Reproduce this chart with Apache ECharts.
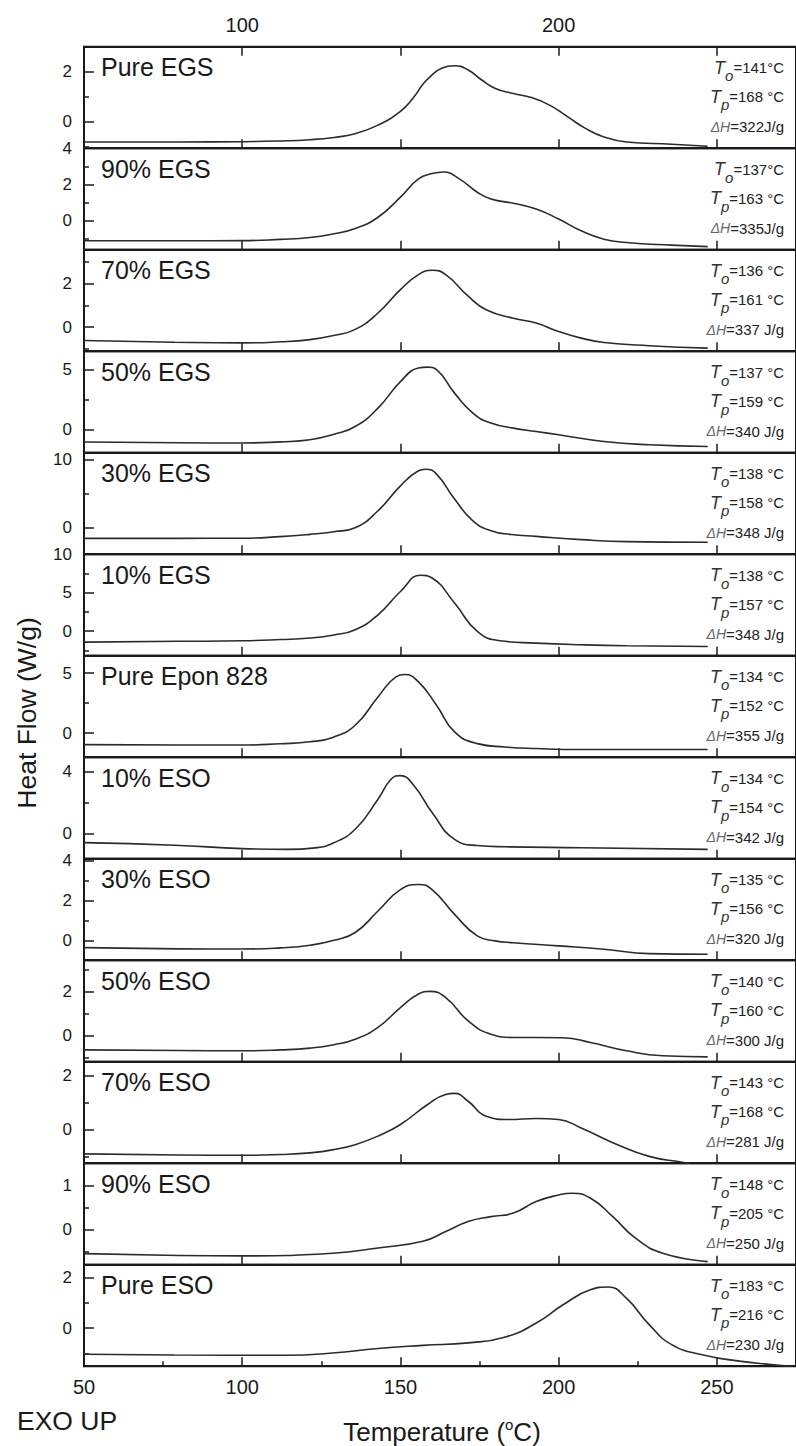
<!DOCTYPE html>
<html>
<head>
<meta charset="utf-8">
<script src="https://cdn.jsdelivr.net/npm/echarts@6/dist/echarts.min.js"></script>
<style>
  html, body { margin: 0; padding: 0; background: #fff; }
  #main { width: 796px; height: 1446px; }
</style>
</head>
<body>
<div id="main"></div>
<script>
// panels, top to bottom
var samples = ['Pure EGS', '90% EGS', '70% EGS', '50% EGS', '30% EGS', '10% EGS', 'Pure Epon 828',
               '10% ESO', '30% ESO', '50% ESO', '70% ESO', '90% ESO', 'Pure ESO'];
var onsetT   = ['141', '137', '136 ', '137 ', '138 ', '138 ', '134 ', '134 ', '135 ', '140 ', '143 ', '148 ', '183 '];
var peakT    = ['168 ', '163 ', '161 ', '159 ', '158 ', '157 ', '152 ', '154 ', '156 ', '160 ', '168 ', '205 ', '216 '];
var enthalpy = ['322J/g', '335J/g', '337 J/g', '340 J/g', '348 J/g', '348 J/g', '355 J/g', '342 J/g',
                '320 J/g', '300 J/g', '281 J/g', '250 J/g', '230 J/g'];

// heat flow curves, [temperature (C), heat flow (W/g)]
var pureEGS = [[50,-0.8],[80,-0.8],[100,-0.79],[112,-0.76],[121.4,-0.71],[129,-0.62],[135.7,-0.47],[142.9,-0.13],
  [150,0.42],[154,0.95],[157.1,1.5],[160,1.88],[162.9,2.13],[167.1,2.24],[171.4,2.07],[175.7,1.67],[180,1.33],
  [185.7,1.13],[191.4,0.97],[197.1,0.67],[202.9,0.2],[208.6,-0.27],[214.3,-0.6],[221.4,-0.8],[235.7,-0.89],
  [247.1,-0.97]];
var egs90 = [[50,-1.11],[80,-1.11],[100,-1.1],[112,-1.03],[121.4,-0.93],[129,-0.72],[135.7,-0.43],[142.9,0.19],
  [150,1.3],[155.7,2.31],[160,2.6],[163.6,2.69],[168.6,2.31],[174.3,1.57],[178.6,1.2],[185.7,0.96],
  [192.9,0.65],[200,0.09],[207.1,-0.56],[214.3,-1.02],[221.4,-1.2],[235.7,-1.35],[247.1,-1.43]];
var egs70 = [[50,-0.61],[78.6,-0.69],[100,-0.72],[112,-0.67],[121.4,-0.57],[129,-0.38],[135.7,-0.1],
  [142.9,0.65],[150,1.72],[155.7,2.41],[160,2.61],[164.3,2.41],[171.4,1.42],[177.1,0.8],[185.7,0.41],
  [192.9,0.19],[200,-0.2],[207.1,-0.5],[214.3,-0.7],[228.6,-0.85],[247.1,-0.96]];
var egs50 = [[50,-1.06],[80,-1.12],[100,-1.14],[112,-1.04],[121.4,-0.87],[129,-0.4],[135.7,0.24],
  [142.9,1.78],[150,4.0],[155.7,5.14],[158.6,5.22],[161.4,5.0],[167.1,3.04],[172.9,1.37],[178.6,0.53],
  [185.7,0.11],[192.9,-0.17],[200,-0.45],[214.3,-1.01],[228.6,-1.29],[247.1,-1.43]];
var egs30 = [[50,-1.57],[80,-1.57],[100,-1.55],[112,-1.32],[121.4,-0.99],[129,-0.6],[135.7,-0.01],
  [142.9,2.48],[150,6.14],[155.7,8.34],[157.9,8.58],[161.4,7.85],[167.1,4.19],[172.9,1.0],[178.6,-0.45],
  [185,-1.0],[192.9,-1.28],[207.1,-1.76],[221.4,-2.06],[247.1,-2.15]];
var egs10 = [[50,-1.43],[80,-1.33],[100,-1.26],[112,-1.1],[121.4,-0.9],[129,-0.5],[135.7,0.17],[142.9,2.12],
  [150,5.15],[156.4,7.26],[160,6.9],[167.1,3.65],[174.3,-0.04],[181.4,-1.26],[192.9,-1.56],[207.1,-1.78],
  [221.4,-1.91],[247.1,-2.0]];
var epon828 = [[50,-0.95],[80,-0.98],[100,-0.99],[112,-0.88],[121.4,-0.72],[128.6,-0.35],[135.7,0.66],
  [142.9,3.02],[148.6,4.69],[151.4,4.88],[155.7,4.27],[161.4,2.33],[167.1,0.11],[174.3,-0.87],
  [183,-1.15],[192.9,-1.28],[207.1,-1.36],[247.1,-1.36]];
var eso10 = [[50,-0.56],[78.6,-0.73],[100,-0.95],[114.3,-1.0],[123,-0.9],[128.6,-0.6],[135.7,0.3],
  [142.9,2.24],[147.1,3.54],[150,3.76],[154.3,3.11],[160,1.38],[167.1,-0.35],[174.3,-0.75],[183,-0.83],
  [207.1,-0.89],[247.1,-1.0]];
var eso30 = [[50,-0.37],[80,-0.43],[100,-0.44],[112,-0.38],[121.4,-0.25],[129,0.0],[135.7,0.39],[142.9,1.47],
  [150,2.55],[155.7,2.8],[160,2.55],[167.1,1.3],[174.3,0.22],[180,-0.03],[185.7,-0.12],[200,-0.28],
  [214.3,-0.45],[228.6,-0.67],[247.1,-0.7]];
var eso50 = [[50,-0.66],[80,-0.69],[100,-0.7],[112,-0.66],[121.4,-0.58],[129,-0.42],[135.7,-0.17],
  [142.9,0.37],[150,1.28],[155.7,1.9],[159.3,2.02],[164.3,1.74],[171.4,0.67],[178.6,0.06],[185.7,-0.09],
  [192.9,-0.09],[201.4,-0.1],[210,-0.32],[221.4,-0.7],[232.9,-0.93],[247.1,-0.98]];
var eso70 = [[50,-0.88],[80,-0.92],[100,-0.93],[112,-0.9],[121.4,-0.84],[129,-0.72],[135.7,-0.54],
  [143,-0.22],[150,0.2],[158.6,0.93],[164.3,1.3],[167.1,1.34],[171.4,1.05],[177.1,0.5],[184.3,0.38],
  [192.9,0.42],[200,0.38],[207.1,0.07],[218.6,-0.54],[228.6,-0.97],[238.6,-1.18],[241.4,-1.22]];
var eso90 = [[50,-0.55],[80,-0.59],[100,-0.6],[128.6,-0.54],[142.9,-0.42],[157.1,-0.27],[164.3,-0.05],
  [171.4,0.18],[178.6,0.29],[185.7,0.37],[192.9,0.63],[200,0.78],[204.3,0.82],[210,0.71],[217.1,0.29],
  [224.3,-0.2],[232.9,-0.54],[247.1,-0.73]];
var pureESO = [[50,-1.03],[78.6,-1.06],[114.3,-1.07],[128.6,-0.98],[142.9,-0.8],[157.1,-0.68],
  [171.4,-0.58],[182.9,-0.36],[192.9,0.2],[201.4,0.92],[210,1.51],[215.7,1.62],[221.4,1.18],[228.6,0.14],
  [235.7,-0.65],[245.7,-1.06],[257.1,-1.3],[267.1,-1.43],[274,-1.5]];
var curves = [pureEGS, egs90, egs70, egs50, egs30, egs10, epon828, eso10, eso30, eso50, eso70, eso90, pureESO];

// y scale of every panel
var yMin = [-1.05, -1.6, -1.1, -1.95, -3.9, -3.2, -2, -1.6, -1.0, -1.2, -1.22, -0.8, -1.5];
var yMax = [3, 4, 3.55, 6.55, 11, 10, 6.45, 4.95, 4.1, 3.45, 2.5, 1.5, 2.5];
var yMajor = [[0,2],[0,2,4],[0,2],[0,5],[0,10],[0,5,10],[0,5],[0,4],[0,2,4],[0,2],[0,2],[0,1],[0,2]];
var yMinor = [[-1,1,3],[-1,1,3],[-1,1,3],[2.5],[5],[-2.5,2.5,7.5],[2.5],[2],[1,3],[-1,1,3],[-1,1],[-0.5,0.5],[-1,1]];

// temperature axis
var xMin = 50, xMax = 275;
var xTicks = [50, 100, 150, 200, 250];
var xMinorTicks = [75, 125, 175, 225];
var topLabels = [100, 200];

var FONT = 'Liberation Sans, Arial, sans-serif';
var INK = '#1a1a1a';
var top0 = 46.7, ph = 101.5, left = 84, plotW = 716;

var chart = echarts.init(document.getElementById('main'), null, {renderer: 'svg'});

var grids = [], xAxes = [], yAxes = [], series = [], graphics = [];
var n = samples.length;

for (var i = 0; i < n; i++) {
    var gTop = top0 + i * ph;
    var last = (i === n - 1);
    grids.push({left: left, top: gTop, width: plotW, height: ph, show: true,
        borderColor: INK, borderWidth: 2, backgroundColor: 'transparent'});

    xAxes.push({
        type: 'value', gridIndex: i, position: 'bottom', min: xMin, max: xMax,
        axisLine: {show: true, onZero: false, lineStyle: {color: INK, width: 2}},
        axisTick: {show: true, inside: true, length: 9, customValues: xTicks, lineStyle: {color: INK, width: 1.5}},
        axisLabel: {show: last, customValues: xTicks, fontSize: 20, color: INK, fontFamily: FONT, margin: 11},
        splitLine: {show: false}
    });

    yAxes.push({
        type: 'value', gridIndex: i, position: 'left', min: yMin[i], max: yMax[i],
        axisLine: {show: true, onZero: false, lineStyle: {color: INK, width: 2}},
        axisTick: {show: true, inside: true, length: 10, customValues: yMajor[i], lineStyle: {color: INK, width: 1.5}},
        axisLabel: {show: true, customValues: yMajor[i], fontSize: 17, color: INK, fontFamily: FONT, margin: 12},
        splitLine: {show: false}
    });

    series.push({
        type: 'line', xAxisIndex: i, yAxisIndex: i, data: curves[i],
        showSymbol: false, smooth: 0.5, lineStyle: {color: '#2b2b2b', width: 1.6},
        animation: false
    });

    // sample name
    graphics.push({
        type: 'text', left: 101, top: gTop + 8,
        style: {text: samples[i], fontSize: 25, fontFamily: FONT, fill: INK}
    });

    // onset / peak / enthalpy
    var rich = {
        it: {fontSize: 18, fontStyle: 'italic', fontFamily: FONT, fill: '#333'},
        sub: {fontSize: 15, fontStyle: 'italic', fontFamily: FONT, fill: '#333', padding: [16, 0, 0, 0]},
        n: {fontSize: 15, fontFamily: FONT, fill: '#222'},
        dh: {fontSize: 14, fontStyle: 'italic', fontFamily: FONT, fill: '#666'}
    };
    var lines = [
        ['{it|T}{sub|o}{n|=' + onsetT[i] + '°C}', 21],
        ['{it|T}{sub|p}{n|=' + peakT[i] + '°C}', 50],
        ['{dh|ΔH}{n|=' + enthalpy[i] + '}', 80]
    ];
    lines.forEach(function (ln) {
        graphics.push({
            type: 'text', x: 784, y: gTop + ln[1],
            style: {text: ln[0], rich: rich, align: 'right', verticalAlign: 'middle'}
        });
    });
}

// top axis of the first panel
xAxes.push({
    type: 'value', gridIndex: 0, position: 'top', min: xMin, max: xMax,
    axisLine: {show: true, onZero: false, lineStyle: {color: INK, width: 2}},
    axisTick: {show: true, inside: true, length: 9, customValues: [100, 150, 200, 250], lineStyle: {color: INK, width: 1.5}},
    axisLabel: {show: true, customValues: topLabels, fontSize: 20, color: INK, fontFamily: FONT, margin: 12},
    splitLine: {show: false}
});
// minor ticks of the bottom axis
xAxes.push({
    type: 'value', gridIndex: n - 1, position: 'bottom', min: xMin, max: xMax,
    axisLine: {show: false, onZero: false},
    axisTick: {show: true, inside: true, length: 5, customValues: xMinorTicks, lineStyle: {color: INK, width: 1.5}},
    axisLabel: {show: false},
    splitLine: {show: false}
});
// minor ticks of every y axis
for (var j = 0; j < n; j++) {
    yAxes.push({
        type: 'value', gridIndex: j, position: 'left', min: yMin[j], max: yMax[j],
        axisLine: {show: false, onZero: false},
        axisTick: {show: true, inside: true, length: 5, customValues: yMinor[j], lineStyle: {color: INK, width: 1.5}},
        axisLabel: {show: false},
        splitLine: {show: false}
    });
}

// axis titles
graphics.push({
    type: 'text', left: 17, top: 1407,
    style: {text: 'EXO UP', fontSize: 26.5, fontFamily: FONT, fill: INK}
});
graphics.push({
    type: 'text', x: 442, y: 1432,
    style: {
        text: '{a|Temperature (}{s|o}{a|C)}', align: 'center', verticalAlign: 'middle',
        rich: {
            a: {fontSize: 26, fontFamily: FONT, fill: INK},
            s: {fontSize: 15, fontFamily: FONT, fill: INK, padding: [0, 0, 15, 0]}
        }
    }
});
graphics.push({
    type: 'text', x: 27, y: 713, rotation: Math.PI / 2,
    style: {text: 'Heat Flow (W/g)', fontSize: 26.5, fontFamily: FONT, fill: INK, align: 'center', verticalAlign: 'middle'}
});

chart.setOption({
    backgroundColor: '#fff',
    animation: false,
    grid: grids,
    xAxis: xAxes,
    yAxis: yAxes,
    series: series,
    graphic: graphics
});
</script>
</body>
</html>
